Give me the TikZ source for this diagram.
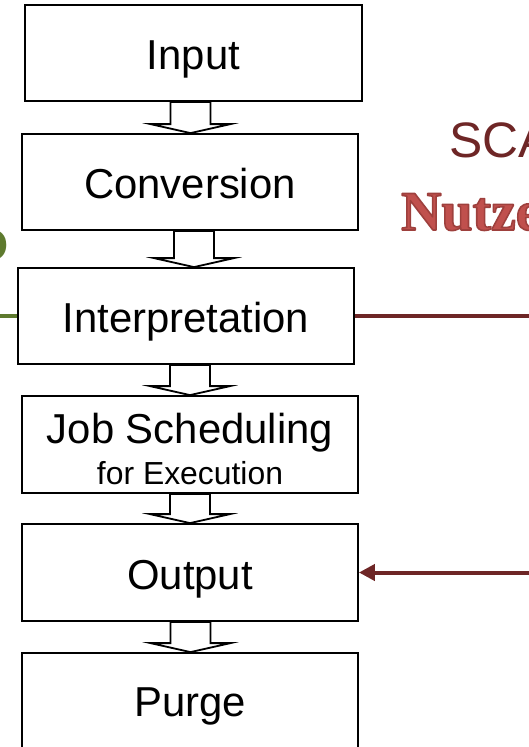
\documentclass[tikz,border=0pt]{standalone}
\usepackage{fontspec}
\setmainfont{Liberation Sans}
\newfontfamily\headserif{Liberation Serif}
\usetikzlibrary{arrows.meta,calc}

\definecolor{linkred}{HTML}{6E2626}
\definecolor{leafgreen}{HTML}{5E7A2E}
\definecolor{wordred}{HTML}{C0504D}

\tikzset{
  stagebox/.style={draw=black, line width=1.8bp, fill=white, inner sep=0pt,
    minimum width=336bp, minimum height=96bp, font=\fontsize{42}{48}\selectfont},
  stagetext/.style={text height=42bp, text depth=9bp},
  flowarrow/.style={draw=black, line width=1.8bp, fill=white, line join=miter},
  linkline/.style={draw=linkred, line width=4bp},
  sideline/.style={draw=leafgreen, line width=4bp},
}

% filled-and-stroked lettering with a darker red outline
\newcommand\outlinedword[1]{%
  \special{pdf:literal direct 0.62 0.25 0.24 RG 1.6 w 1 j 2 Tr}#1\special{pdf:literal direct 0 Tr}}

% hollow block arrow from the bottom of node #1 to the top of node #2, centred at x = #3
\newcommand\stagearrow[3]{%
  \draw[flowarrow] let \p1=(#1.south), \p2=(#2.north) in
    (#3-20,\y1) -- (#3-20,\y2+9bp) -- (#3-40,\y2+9bp) -- (#3,\y2)
    -- (#3+40,\y2+9bp) -- (#3+20,\y2+9bp) -- (#3+20,\y1) -- cycle;
}

\begin{document}
\begin{tikzpicture}[x=1bp, y=-1bp]
  \useasboundingbox (0,0) rectangle (529,747);
  \coordinate (edgeL) at (0,0);
  \coordinate (edgeR) at (529,0);

  % titles running off the right edge
  \node[anchor=base west, inner sep=0pt, text=linkred,
        font=\fontsize{50}{60}\selectfont] (scatitle) at (449,157) {SCA};
  \node[anchor=base west, inner sep=0pt, text=wordred,
        font=\headserif\bfseries\fontsize{56}{64}\selectfont] (nutze) at (401,230) {\outlinedword{Nutze}};
  % letter running off the left edge
  \node[anchor=east, inner sep=0pt, text=leafgreen,
        font=\bfseries\fontsize{44}{50}\selectfont] (leftword) at (8.5,245) {O};

  % processing stages
  \node[stagebox, stagetext, minimum width=337bp] (input) at (193.5,53) {Input};
  \node[stagebox, stagetext] (conversion) at (190,182) {Conversion};
  \node[stagebox, stagetext] (interp) at (186,316) {Interpretation};
  \node[stagebox, minimum height=97bp, align=center] (job) at (190,444.5)
       {\rule{0pt}{39bp}Job Scheduling\\[-7pt]{\fontsize{32}{48}\selectfont for Execution}};
  \node[stagebox, stagetext, minimum height=97bp] (output) at (190,572.5) {Output};
  \node[stagebox, minimum height=107bp] (purge) at (190,706.5) {Purge};

  % block arrows between stages
  \stagearrow{input}{conversion}{190.5}
  \stagearrow{conversion}{interp}{194}
  \stagearrow{interp}{job}{190}
  \stagearrow{job}{output}{190}
  \stagearrow{output}{purge}{190.5}

  % side connections
  \draw[sideline] (interp.west -| edgeL) -- (interp.west);
  \draw[linkline] (interp.east) -- (interp.east -| edgeR);
  \draw[linkline, -{Triangle[length=16bp, width=16bp]}] (output.east -| edgeR) -- (output.east);
\end{tikzpicture}
\end{document}
